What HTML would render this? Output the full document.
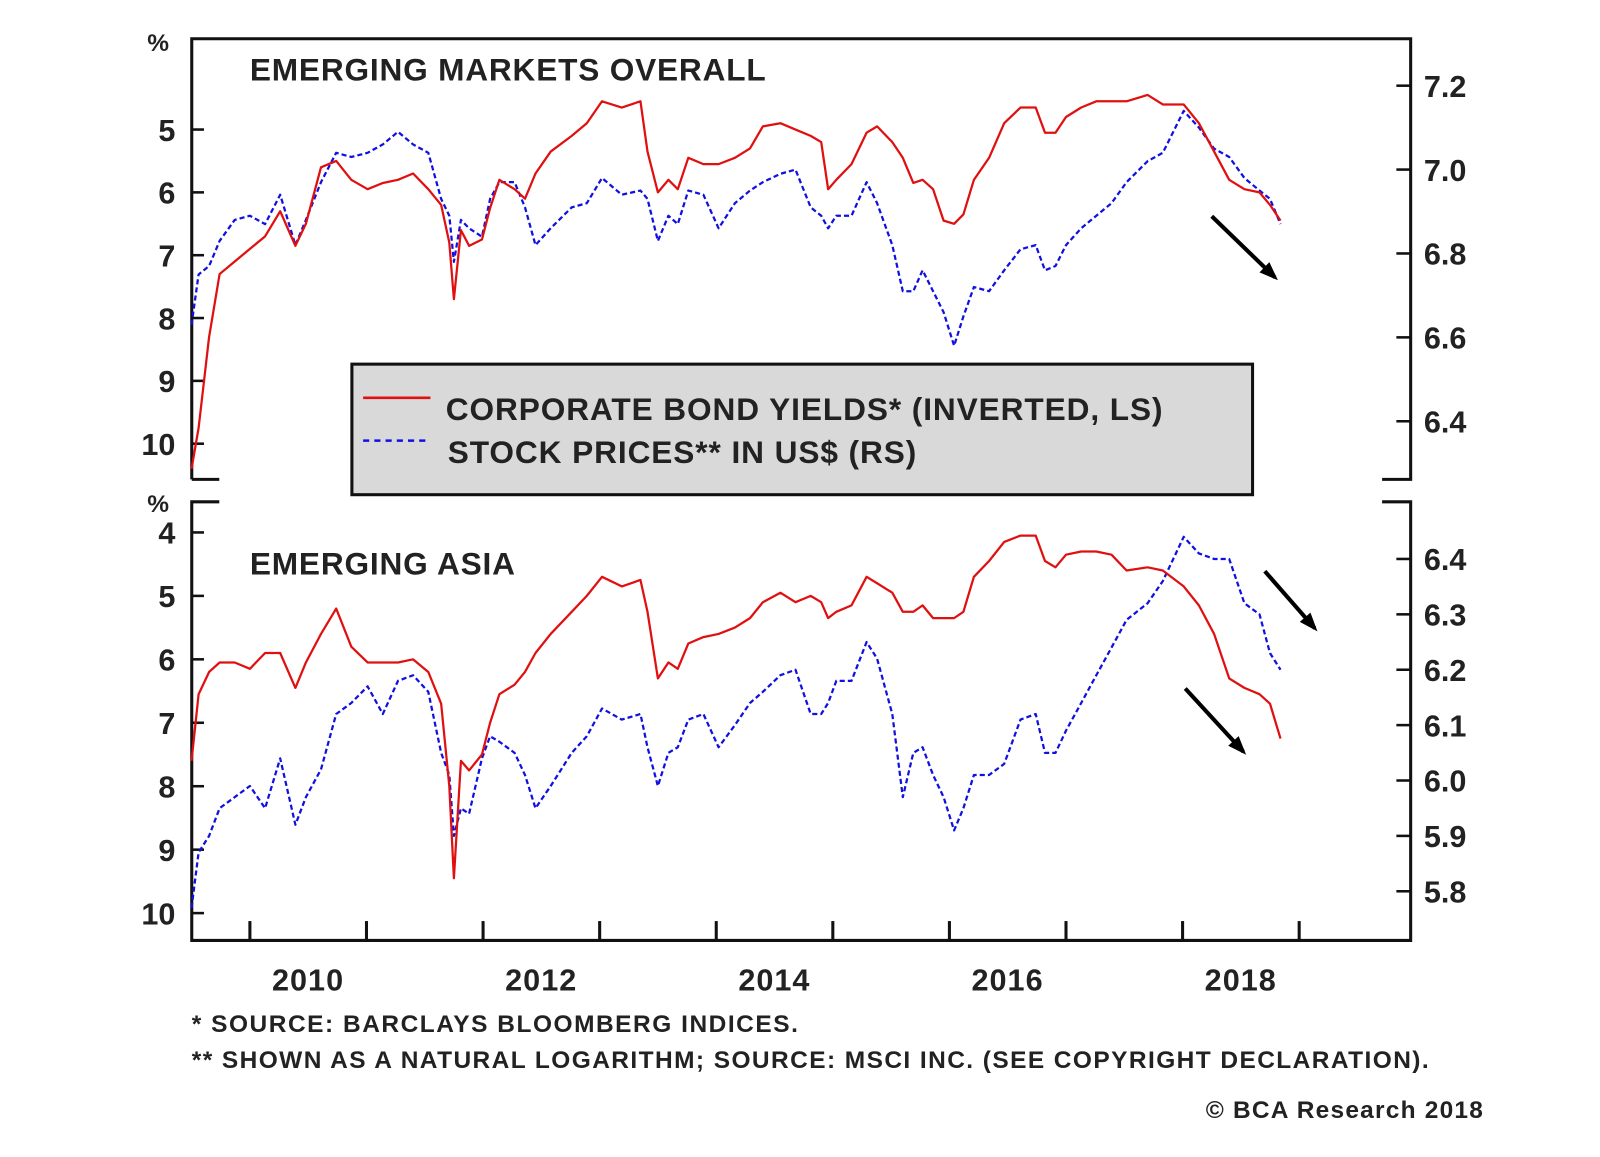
<!DOCTYPE html>
<html><head><meta charset="utf-8"><style>
body{margin:0;background:#fff;width:1600px;height:1152px;overflow:hidden}
svg text{font-family:"Liberation Sans",Arial,sans-serif;font-weight:bold;fill:#222}
</style></head><body>
<svg width="1600" height="1152" viewBox="0 0 1600 1152"><g id="c" transform="scale(1.02)"></g></svg>
<script>
const dates=[2009.50,2009.56,2009.65,2009.74,2009.87,2010.0,2010.13,2010.26,2010.39,2010.48,2010.61,2010.74,2010.87,2011.01,2011.14,2011.27,2011.40,2011.53,2011.64,2011.71,2011.75,2011.81,2011.88,2011.99,2012.06,2012.14,2012.27,2012.36,2012.45,2012.58,2012.76,2012.89,2013.02,2013.19,2013.35,2013.41,2013.50,2013.59,2013.67,2013.76,2013.89,2014.02,2014.16,2014.29,2014.40,2014.55,2014.68,2014.81,2014.90,2014.96,2015.03,2015.16,2015.29,2015.38,2015.51,2015.60,2015.69,2015.77,2015.86,2015.95,2016.04,2016.12,2016.21,2016.34,2016.47,2016.61,2016.74,2016.82,2016.91,2017.00,2017.13,2017.26,2017.39,2017.52,2017.70,2017.83,2018.01,2018.14,2018.27,2018.40,2018.53,2018.66,2018.75,2018.84];
const emYield=[10.4,9.75,8.3,7.3,7.1,6.9,6.7,6.3,6.85,6.5,5.6,5.5,5.8,5.95,5.85,5.8,5.7,5.95,6.2,6.8,7.7,6.6,6.85,6.75,6.25,5.8,5.95,6.1,5.7,5.35,5.1,4.9,4.55,4.65,4.55,5.35,6.0,5.8,5.95,5.45,5.55,5.55,5.45,5.3,4.95,4.9,5.0,5.1,5.2,5.95,5.8,5.55,5.05,4.95,5.2,5.45,5.85,5.8,5.95,6.45,6.5,6.35,5.8,5.45,4.9,4.65,4.65,5.05,5.05,4.8,4.65,4.55,4.55,4.55,4.45,4.6,4.6,4.9,5.35,5.8,5.95,6.0,6.2,6.45];
const emStock=[6.63,6.75,6.77,6.83,6.88,6.89,6.87,6.94,6.82,6.88,6.97,7.04,7.03,7.04,7.06,7.09,7.06,7.04,6.93,6.89,6.78,6.88,6.86,6.84,6.93,6.97,6.97,6.91,6.82,6.86,6.91,6.92,6.98,6.94,6.95,6.93,6.83,6.89,6.87,6.95,6.94,6.86,6.92,6.95,6.97,6.99,7.00,6.91,6.89,6.86,6.89,6.89,6.97,6.92,6.82,6.71,6.71,6.76,6.71,6.66,6.58,6.65,6.72,6.71,6.76,6.81,6.82,6.76,6.77,6.82,6.86,6.89,6.92,6.97,7.02,7.04,7.14,7.10,7.05,7.03,6.98,6.95,6.93,6.87];
const asiaYield=[7.6,6.55,6.2,6.05,6.05,6.15,5.9,5.9,6.45,6.05,5.6,5.2,5.8,6.05,6.05,6.05,6.0,6.2,6.7,8.0,9.45,7.6,7.75,7.5,7.0,6.55,6.4,6.2,5.9,5.6,5.25,5.0,4.7,4.85,4.75,5.25,6.3,6.05,6.15,5.75,5.65,5.6,5.5,5.35,5.1,4.95,5.1,5.0,5.1,5.35,5.25,5.15,4.7,4.8,4.95,5.25,5.25,5.15,5.35,5.35,5.35,5.25,4.7,4.45,4.15,4.05,4.05,4.45,4.55,4.35,4.3,4.3,4.35,4.6,4.55,4.6,4.85,5.15,5.6,6.3,6.45,6.55,6.7,7.25];
const asiaStock=[5.77,5.87,5.9,5.95,5.97,5.99,5.95,6.04,5.92,5.97,6.02,6.12,6.14,6.17,6.12,6.18,6.19,6.16,6.05,6.01,5.9,5.95,5.94,6.04,6.08,6.07,6.05,6.01,5.95,5.99,6.05,6.08,6.13,6.11,6.12,6.06,5.99,6.05,6.06,6.11,6.12,6.06,6.1,6.14,6.16,6.19,6.2,6.12,6.12,6.14,6.18,6.18,6.25,6.22,6.12,5.97,6.05,6.06,6.01,5.97,5.91,5.95,6.01,6.01,6.03,6.11,6.12,6.05,6.05,6.09,6.14,6.19,6.24,6.29,6.32,6.36,6.44,6.41,6.4,6.4,6.32,6.3,6.23,6.2];
const leftTicksTop=[5,6,7,8,9,10];
const rightTicksTop=[7.2,7.0,6.8,6.6,6.4];
const leftTicksBot=[4,5,6,7,8,9,10];
const rightTicksBot=[6.4,6.3,6.2,6.1,6.0,5.9,5.8];
const yearLabels=[2010,2012,2014,2016,2018];
const yearTicks=[2010,2011,2012,2013,2014,2015,2016,2017,2018,2019];

const NS="http://www.w3.org/2000/svg",svg=document.getElementById('c');
function mk(t,a,p){const e=document.createElementNS(NS,t);for(const k in a)e.setAttribute(k,a[k]);(p||svg).appendChild(e);return e;}
const X=d=>245+(d-2010)*114.3;
const yTL=v=>127+(v-5)*61.6, yTR=v=>84+(7.2-v)*411.25;
const yBL=v=>522+(v-4)*62.2, yBR=v=>548+(6.4-v)*543;

let e;
e=mk('path',{d:'M188,470 L188,38 L1383,38 L1383,470 L1355,470 M188,470 L215,470',fill:'none',stroke:'#111','stroke-width':3});

e=mk('path',{d:'M215,492 L188,492 L188,922 L1383,922 L1383,492 L1355,492',fill:'none',stroke:'#111','stroke-width':3});


function txt(s,x,y,size,anchor,name,ls){const t=mk('text',{x:x,y:y,'font-size':size,'text-anchor':anchor||'start'});if(ls)t.setAttribute('letter-spacing',ls);t.textContent=s;return t;}
function tick(x1,x2,y,name){const l=mk('line',{x1:x1,x2:x2,y1:y,y2:y,stroke:'#111','stroke-width':2.5});}
leftTicksTop.forEach(v=>{txt(String(v),172,yTL(v)+11,30,'end','left-tick-top');tick(188,200,yTL(v),'left-tick-mark-top');});
rightTicksTop.forEach(v=>{txt(v.toFixed(1),1396,yTR(v)+11,30,'start','right-tick-top');tick(1369,1383,yTR(v),'right-tick-mark-top');});
leftTicksBot.forEach(v=>{txt(String(v),172,yBL(v)+11,30,'end','left-tick-bottom');tick(188,200,yBL(v),'left-tick-mark-bottom');});
rightTicksBot.forEach(v=>{txt(v.toFixed(1),1396,yBR(v)+11,30,'start','right-tick-bottom');tick(1369,1383,yBR(v),'right-tick-mark-bottom');});
yearTicks.forEach(y=>{const l=mk('line',{x1:X(y),x2:X(y),y1:922,y2:903,stroke:'#111','stroke-width':3});});
yearLabels.forEach(y=>txt(String(y),X(y)+57,971,30,'middle','x-tick-label','1'));
txt('%',155,50,24,'middle','left-unit-top');
txt('%',155,502,24,'middle','left-unit-bottom');
txt('EMERGING MARKETS OVERALL',245,79,31,'start','top-panel-title','0.8');
txt('EMERGING ASIA',245,563,31,'start','bottom-panel-title','0.8');

function line(vals,yf,color,dash,name){
  const pts=dates.map((d,i)=>X(d).toFixed(1)+','+yf(vals[i]).toFixed(1)).join(' ');
  const a={points:pts,fill:'none',stroke:color,'stroke-width':2.2,'stroke-linejoin':'round'};
  if(dash)a['stroke-dasharray']='5,3';
  const p=mk('polyline',a);
}
line(emStock,yTR,'#1010e0',true,'em-stock-line');
line(emYield,yTL,'#e01010',false,'em-yield-line');
line(asiaStock,yBR,'#1010e0',true,'asia-stock-line');
line(asiaYield,yBL,'#e01010',false,'asia-yield-line');

function arrow(x1,y1,x2,y2){
  const g=mk('g',{});
  mk('line',{x1:x1,y1:y1,x2:x2,y2:y2,stroke:'#000','stroke-width':4},g);
  const a=Math.atan2(y2-y1,x2-x1),L=16,w=0.45;
  mk('polygon',{points:`${x2+4*Math.cos(a)},${y2+4*Math.sin(a)} ${x2-L*Math.cos(a-w)},${y2-L*Math.sin(a-w)} ${x2-L*Math.cos(a+w)},${y2-L*Math.sin(a+w)}`,fill:'#000'},g);
}
arrow(1188,212,1250,272);arrow(1240,560,1289,616);arrow(1162,675,1219,737);

const lg=mk('g',{});
mk('rect',{x:345,y:357,width:883,height:128,fill:'#d9d9d9',stroke:'#111','stroke-width':3},lg);
mk('line',{x1:356,x2:422,y1:390,y2:390,stroke:'#e01010','stroke-width':2.5},lg);
mk('line',{x1:356,x2:422,y1:432,y2:432,stroke:'#1010e0','stroke-width':2.5,'stroke-dasharray':'6,5'},lg);
txt('CORPORATE BOND YIELDS* (INVERTED, LS)',437,412,31,'start','legend-entry-yields','0.9');
txt('STOCK PRICES** IN US$ (RS)',439,454,31,'start','legend-entry-stocks','0.9');

txt('*  SOURCE: BARCLAYS BLOOMBERG INDICES.',188,1012,24,'start','footnote-1','1.5');
txt('** SHOWN AS A NATURAL LOGARITHM; SOURCE: MSCI INC. (SEE COPYRIGHT DECLARATION).',188,1047,24,'start','footnote-2','1.4');
txt('© BCA Research 2018',1455,1096,24,'end','copyright','1.2');
</script>
</body></html>
